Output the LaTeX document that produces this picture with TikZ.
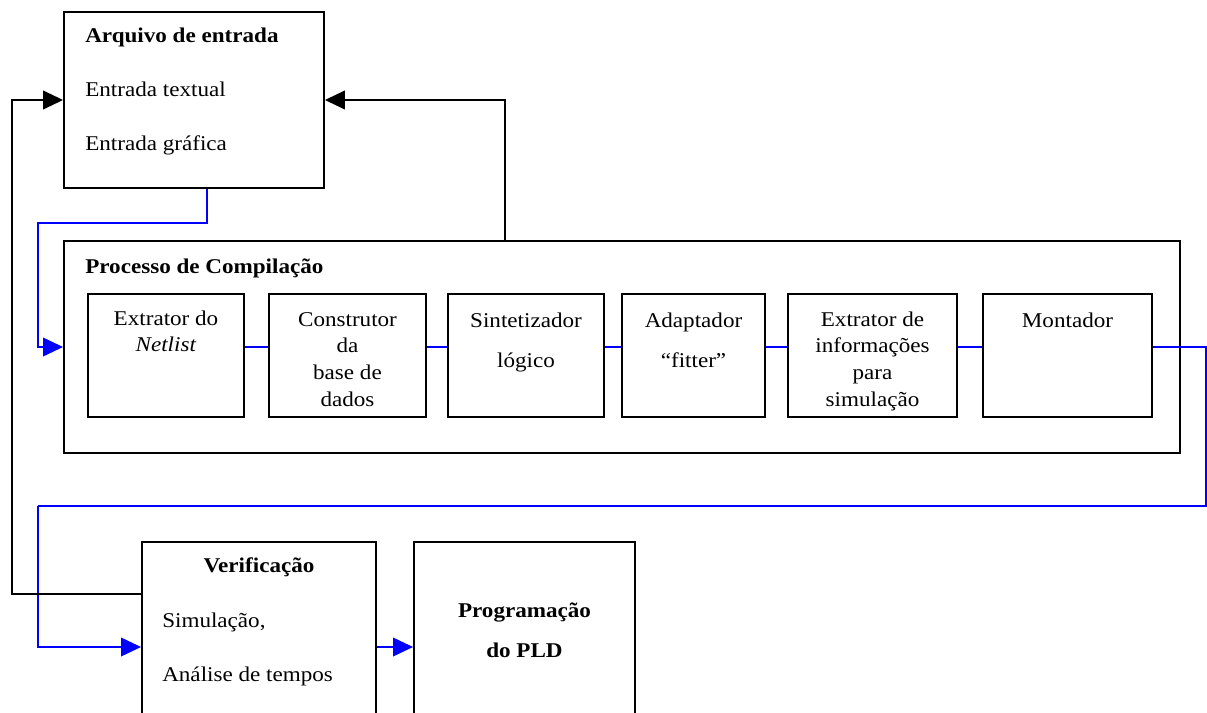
\documentclass[tikz,border=0pt]{standalone}
\usepackage{fontspec}
\setmainfont{Liberation Serif}[FakeStretch=1.1]
\usetikzlibrary{arrows.meta,fit,calc}

\begin{document}
\begin{tikzpicture}[x=0.75pt,y=-0.75pt]
            \tikzstyle{blk}=[draw,line width=1.4pt,inner sep=0pt]
            \tikzstyle{lbl}=[inner sep=0pt,font=\fontsize{15.75}{20}\selectfont]
            \tikzstyle{bline}=[draw=blue,line width=1.1pt]
            \tikzstyle{kline}=[draw=black,line width=1.4pt]
            \tikzstyle{arr}=[-{Triangle[length=15pt,width=14pt]}]

            \path[use as bounding box] (0,0) rectangle (1207,713);
            \clip (0,0) rectangle (1207,713);

            % multi-line labels sit on their last baseline
            %input file
            \node[blk,fit={(64,12) (324,188)}] (arq) {};
            \node[lbl,anchor=base west,align=left] (arqtxt) at (85,151)
                {\textbf{Arquivo de entrada}\\[20.5pt]Entrada textual\\[20.5pt]Entrada gráfica};

            %compilation
            \node[blk,fit={(64,241) (1180,453)}] (proc) {};
            \node[lbl,anchor=base west] (proctxt) at (85,273) {\textbf{Processo de Compilação}};

            \node[blk,fit={(88,294) (244,417)}] (extr) {};
            \node[blk,fit={(269,294) (426,417)}] (cons) {};
            \node[blk,fit={(448,294) (604,417)}] (sint) {};
            \node[blk,fit={(622,294) (765,417)}] (adap) {};
            \node[blk,fit={(788,294) (957,417)}] (inf) {};
            \node[blk,fit={(983,294) (1152,417)}] (mont) {};

            \node[lbl,anchor=base,align=center] (extrtxt) at (166,351) {Extrator do\\[-1pt]\textit{Netlist}};
            \node[lbl,anchor=base,align=center] (constxt) at (347.5,406) {Construtor\\da\\base de\\dados};
            \node[lbl,anchor=base,align=center] (sinttxt) at (526,367) {Sintetizador\\[10pt]lógico};
            \node[lbl,anchor=base,align=center] (adaptxt) at (693.5,367) {Adaptador\\[10pt]“fitter”};
            \node[lbl,anchor=base,align=center] (inftxt) at (872.5,406) {Extrator de\\informações\\para\\simulação};
            \node[lbl,anchor=base,align=center] (monttxt) at (1067.5,327) {Montador};

            %verification and programming
            \node[blk,fit={(142,542) (376,752)}] (verif) {};
            \node[lbl,anchor=base] (veriftxt) at (259,572) {\textbf{Verificação}};
            \node[lbl,anchor=base west,align=left] (simtxt) at (162,681) {Simulação,\\[20.5pt]Análise de tempos};
            \node[blk,fit={(414,542) (635,752)}] (prog) {};
            \node[lbl,anchor=base,align=center] (progtxt) at (524.5,657) {\textbf{Programação}\\[10pt]\textbf{do PLD}};

            %bends
            \coordinate (down) at ($(arq.south west)!.55!(arq.south east)$);
            \coordinate (b1) at (38,223);
            \coordinate (b2) at (1206,506);
            \coordinate (b3) at (38,506);
            \coordinate (k1) at (12,594);
            \coordinate (k2) at (505,100);

            %flow
            \draw[bline,arr] (down) |- (b1) |- (proc.west);
            \draw[bline] (extr.east |- proc.west) -- (cons.west |- proc.west);
            \draw[bline] (cons.east |- proc.west) -- (sint.west |- proc.west);
            \draw[bline] (sint.east |- proc.west) -- (adap.west |- proc.west);
            \draw[bline] (adap.east |- proc.west) -- (inf.west |- proc.west);
            \draw[bline] (inf.east |- proc.west) -- (mont.west |- proc.west);
            \draw[bline] (mont.east |- proc.west) -| (b2) -- (b3);
            \draw[bline,arr] (b3) |- (verif.west);
            \draw[bline,arr] (verif.east) -- (prog.west);

            %feedback
            \draw[kline,arr] (k1 -| verif.west) -- (k1) |- (arq.west);
            \draw[kline,arr] (k2 |- proc.north) -- (k2) -- (arq.east);

\end{tikzpicture}
\end{document}
